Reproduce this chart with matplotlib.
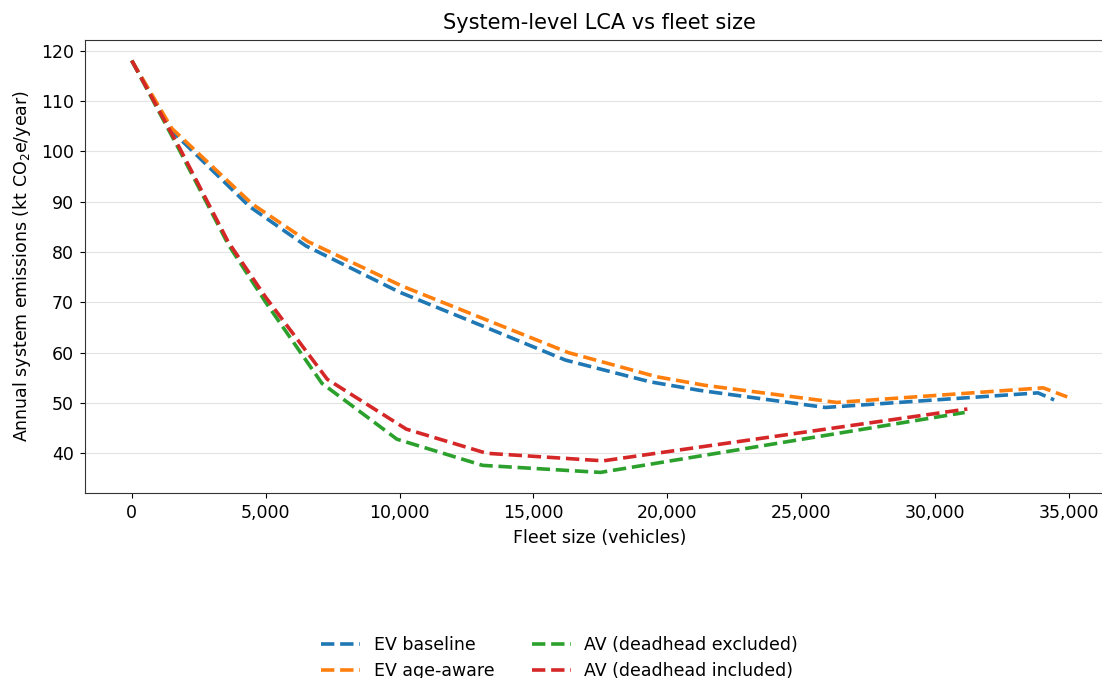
import matplotlib
matplotlib.use("Agg")
import matplotlib.pyplot as plt
from matplotlib.ticker import FuncFormatter

# fleet size (vehicles) and annual emissions (kt CO2e/year)
ev_base_x = [0, 1500, 4400, 6500, 10000, 13000, 16200, 19350, 21200, 25900, 33840, 34440]
ev_base_y = [118, 104, 89, 81.2, 72, 65.5, 58.5, 54.2, 52.5, 49.1, 52.0, 50.6]

ev_age_x = [0, 1500, 4500, 6600, 10100, 13100, 16300, 19600, 21400, 26320, 34030, 34930]
ev_age_y = [118, 104.5, 89.5, 82, 73.2, 66.8, 60, 55.2, 53.5, 50.1, 53.0, 51.2]

av_excl_x = [0, 1800, 3600, 5000, 7100, 9900, 13100, 17500, 31100]
av_excl_y = [118, 100, 81.5, 70.0, 53.9, 42.8, 37.6, 36.2, 48.1]

av_incl_x = [0, 1800, 3600, 5000, 7300, 10250, 13250, 17600, 31200]
av_incl_y = [118, 100.5, 82, 71.0, 54.7, 44.8, 40.0, 38.5, 48.8]

fig = plt.figure(figsize=(11.02, 6.78), dpi=100)
ax = fig.add_axes([85 / 1102, 1 - 493 / 678, (1114 - 85) / 1102, (493 - 40) / 678])

lw = 2.6
ax.plot(ev_base_x, ev_base_y, "--", color="#1f77b4", lw=lw, label="EV baseline")
ax.plot(ev_age_x, ev_age_y, "--", color="#ff7f0e", lw=lw, label="EV age-aware")
ax.plot(av_excl_x, av_excl_y, "--", color="#2ca02c", lw=lw, label="AV (deadhead excluded)")
ax.plot(av_incl_x, av_incl_y, "--", color="#d62728", lw=lw, label="AV (deadhead included)")

ax.set_title("System-level LCA vs fleet size", fontsize=15, pad=8)
ax.set_xlabel("Fleet size (vehicles)", fontsize=12.5, labelpad=5)
ax.set_ylabel("Annual system emissions (kt CO$_2$e/year)", fontsize=12.5, labelpad=6)
ax.tick_params(labelsize=12.5, pad=4.5)
ax.xaxis.set_major_formatter(FuncFormatter(lambda v, p: f"{int(v):,}"))
ax.set_xticks(range(0, 35001, 5000))
ax.set_yticks(range(40, 121, 10))
ax.yaxis.grid(True, color="#dddddd", alpha=0.8)
ax.set_axisbelow(True)
for s in ax.spines.values():
    s.set_color("#333333")

fig.legend(loc="upper center", bbox_to_anchor=(0.508, 1 - 620 / 678), ncol=2,
           frameon=False, fontsize=12.5, handlelength=2.2, columnspacing=2.2)

fig.savefig("out.png", dpi=100)
